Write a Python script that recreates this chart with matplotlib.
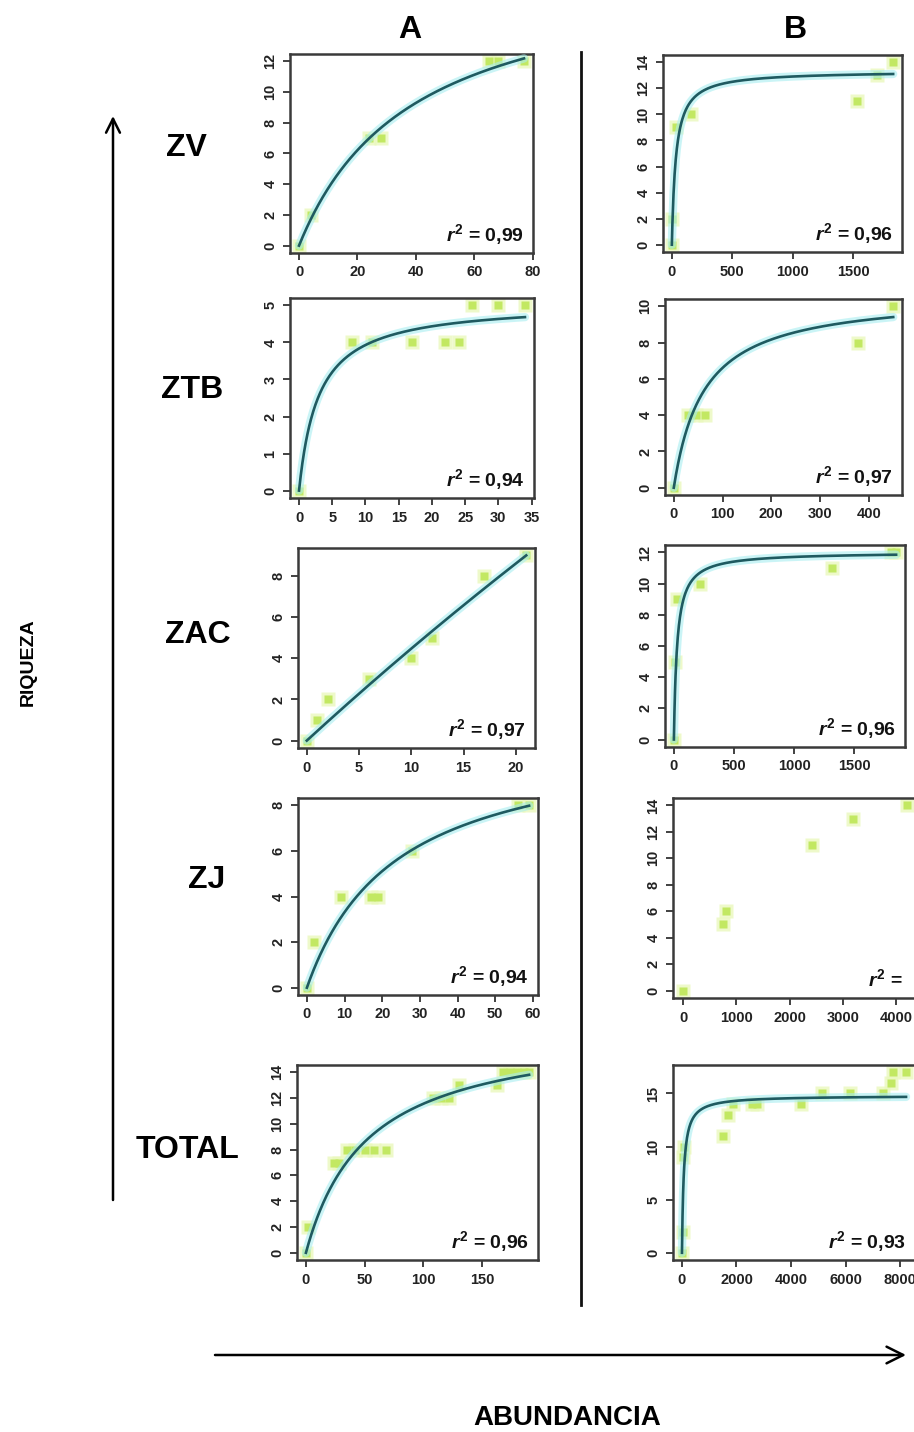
import numpy as np
import matplotlib
matplotlib.use("Agg")
import matplotlib.pyplot as plt
from matplotlib.patches import FancyArrowPatch
from matplotlib.lines import Line2D

W, H = 914, 1432
plt.rcParams['font.family'] = ['Liberation Sans', 'DejaVu Sans']
plt.rcParams['mathtext.fontset'] = 'custom'
plt.rcParams['mathtext.it'] = 'Liberation Sans:italic:bold'
plt.rcParams['mathtext.rm'] = 'Liberation Sans:bold'

# ---------------- data ----------------
rows = ["ZV", "ZTB", "ZAC", "ZJ", "TOTAL"]
cols = ["A", "B"]

zv_a_x = [0, 4, 24, 28, 65, 68, 77]
zv_a_y = [0, 2, 7, 7, 12, 12, 12]
ztb_a_x = [0, 8, 11, 17, 22, 24, 26, 30, 34]
ztb_a_y = [0, 4, 4, 4, 4, 4, 5, 5, 5]
zac_a_x = [0, 1, 2, 6, 10, 12, 17, 21]
zac_a_y = [0, 1, 2, 3, 4, 5, 8, 9]
zj_a_x = [0, 2, 9, 17, 19, 28, 56, 59]
zj_a_y = [0, 2, 4, 4, 4, 6, 8, 8]
tot_a_x = [0, 2, 24, 28, 35, 42, 50, 58, 68, 108, 115, 122, 130, 163, 168, 174, 180, 186, 190]
tot_a_y = [0, 2, 7, 7, 8, 8, 8, 8, 8, 12, 12, 12, 13, 13, 14, 14, 14, 14, 14]

zv_b_x = [0, 5, 35, 160, 1530, 1700, 1830]
zv_b_y = [0, 2, 9, 10, 11, 13, 14]
ztb_b_x = [0, 30, 46, 64, 378, 450]
ztb_b_y = [0, 4, 4, 4, 8, 10]
zac_b_x = [0, 10, 25, 218, 1320, 1810, 1850]
zac_b_y = [0, 5, 9, 10, 11, 12, 12]
zj_b_x = [0, 750, 806, 2420, 3190, 4200]
zj_b_y = [0, 5, 6, 11, 13, 14]
tot_b_x = [0, 20, 40, 90, 1500, 1680, 1870, 2580, 2770, 4370, 5120, 6170, 7360, 7660, 7740, 8220]
tot_b_y = [0, 2, 9, 10, 11, 13, 14, 14, 14, 14, 15, 15, 15, 16, 17, 17]

# fitted saturating curves  S = a*N/(b+N)   (None = no curve drawn)
fit_a = [(18.4, 39.2), (5.09, 2.95), (114.0, 245.0), (11.2, 23.8), (17.6, 52.3)]
fit_b = [(13.34, 33.4), (10.7, 62.0), (12.03, 26.9), None, (14.8, 68.0)]

r2_a = ["0,99", "0,94", "0,97", "0,94", "0,96"]
r2_b = ["0,96", "0,97", "0,96", "", "0,93"]

xticks_a = [[0, 20, 40, 60, 80], [0, 5, 10, 15, 20, 25, 30, 35], [0, 5, 10, 15, 20],
            [0, 10, 20, 30, 40, 50, 60], [0, 50, 100, 150]]
yticks_a = [[0, 2, 4, 6, 8, 10, 12], [0, 1, 2, 3, 4, 5], [0, 2, 4, 6, 8],
            [0, 2, 4, 6, 8], [0, 2, 4, 6, 8, 10, 12, 14]]
xticks_b = [[0, 500, 1000, 1500], [0, 100, 200, 300, 400], [0, 500, 1000, 1500],
            [0, 1000, 2000, 3000, 4000], [0, 2000, 4000, 6000, 8000]]
yticks_b = [[0, 2, 4, 6, 8, 10, 12, 14], [0, 2, 4, 6, 8, 10], [0, 2, 4, 6, 8, 10, 12],
            [0, 2, 4, 6, 8, 10, 12, 14], [0, 5, 10, 15]]

data_a = [(zv_a_x, zv_a_y), (ztb_a_x, ztb_a_y), (zac_a_x, zac_a_y), (zj_a_x, zj_a_y), (tot_a_x, tot_a_y)]
data_b = [(zv_b_x, zv_b_y), (ztb_b_x, ztb_b_y), (zac_b_x, zac_b_y), (zj_b_x, zj_b_y), (tot_b_x, tot_b_y)]

# ---------------- layout (pixels: left, top, right, bottom) ----------------
boxes_a = [(290, 54, 533, 253), (290, 298, 534, 498), (298, 548, 535, 748),
           (298, 798, 538, 995), (297, 1065, 538, 1260)]
boxes_b = [(663, 55, 902, 252), (665, 299, 902, 495), (665, 545, 905, 747),
           (673, 798, 951, 998), (673, 1065, 915, 1260)]
xlim_override_b = [None, None, None, (-188, 5030), None]

fig = plt.figure(figsize=(W / 100, H / 100), dpi=100)
fig.patch.set_facecolor('white')

TICKFONT = ['Liberation Sans Narrow', 'Liberation Sans', 'DejaVu Sans']
POINT_C = '#c2e862'
HALO_C = '#eaf8bd'
LINE_C = '#1f5a60'
GLOW_C = '#a8eef0'


def rlim(v):
    lo, hi = min(v), max(v)
    d = (hi - lo) * 0.04
    return lo - d, hi + d


def draw_panel(box, xy, fit, r2, xt, yt, xlim_override=None):
    l, t, r, b = box
    ax = fig.add_axes([l / W, 1 - b / H, (r - l) / W, (b - t) / H])
    x, y = np.asarray(xy[0], float), np.asarray(xy[1], float)
    # points with soft halo
    ax.plot(x, y, 's', ms=10, color=HALO_C, mec='none', alpha=0.8, zorder=2)
    ax.plot(x, y, 's', ms=6, color=POINT_C, mec='none', zorder=3)
    if fit is not None:
        a, k = fit
        xs = np.linspace(0, x.max(), 400)
        ys = a * xs / (k + xs)
        ax.plot(xs, ys, color=GLOW_C, lw=6, alpha=0.6, solid_capstyle='round', zorder=4)
        ax.plot(xs, ys, color=LINE_C, lw=1.9, zorder=5)
    ax.set_xlim(xlim_override if xlim_override else rlim(x))
    ax.set_ylim(rlim(y))
    ax.set_xticks(xt)
    ax.set_yticks(yt)
    ax.set_xticklabels([str(v) for v in xt], fontsize=10.5, fontweight='bold',
                       family=TICKFONT, color='#222222')
    ax.set_yticklabels([str(v) for v in yt], fontsize=10.5, fontweight='bold',
                       family=TICKFONT, color='#222222', rotation=90, va='center')
    ax.tick_params(direction='out', length=5, width=1.3, color='#333333', pad=4)
    for s in ax.spines.values():
        s.set_linewidth(1.8)
        s.set_color('#3a3a3a')
    txt = r'$r^{2}$' + ' = ' + r2 if r2 else r'$r^{2}$' + ' ='
    if r2:
        ax.text(1 - 9 / (r - l), 12 / (b - t), txt, transform=ax.transAxes,
                ha='right', va='baseline', fontsize=14, fontweight='bold', color='#111111')
    else:
        ax.text(1 - 83 / (r - l), 12 / (b - t), txt, transform=ax.transAxes,
                ha='left', va='baseline', fontsize=14, fontweight='bold', color='#111111')
    return ax


for i in range(5):
    draw_panel(boxes_a[i], data_a[i], fit_a[i], r2_a[i], xticks_a[i], yticks_a[i])
    draw_panel(boxes_b[i], data_b[i], fit_b[i], r2_b[i], xticks_b[i], yticks_b[i],
               xlim_override_b[i])

# ---------------- annotations ----------------
def fp(x, y):
    return (x, H - y)

# column headers
fig.text(410 / W, 1 - 30 / H, cols[0], ha='center', va='center', fontsize=23, fontweight='bold')
fig.text(795 / W, 1 - 30 / H, cols[1], ha='center', va='center', fontsize=23, fontweight='bold')

# row labels
row_pos = [(186, 148), (192, 390), (198, 635), (207, 880), (188, 1150)]
for lab, (px, py) in zip(rows, row_pos):
    fig.text(px / W, 1 - py / H, lab, ha='center', va='center', fontsize=23, fontweight='bold')

# axis titles
fig.text(28 / W, 1 - 662 / H, "RIQUEZA", rotation=90, ha='center', va='center',
         fontsize=14, fontweight='bold')
fig.text(567 / W, 1 - 1418 / H, "ABUNDANCIA", ha='center', va='center',
         fontsize=20, fontweight='bold')

# separator line
fig.add_artist(Line2D([581 / W, 581 / W], [1 - 52 / H, 1 - 1305 / H], color='#111111', lw=2,
                      transform=fig.transFigure))

# arrows
arr_v = FancyArrowPatch(fp(113, 1200), fp(113, 116), transform=None,
                        arrowstyle='->,head_length=10,head_width=5', lw=1.8, color='black',
                        shrinkA=0, shrinkB=0)
arr_h = FancyArrowPatch(fp(215, 1355), fp(906, 1355), transform=None,
                        arrowstyle='->,head_length=12,head_width=6', lw=1.8, color='black',
                        shrinkA=0, shrinkB=0)
fig.add_artist(arr_v)
fig.add_artist(arr_h)

fig.savefig("out.png", dpi=100, facecolor='white')
